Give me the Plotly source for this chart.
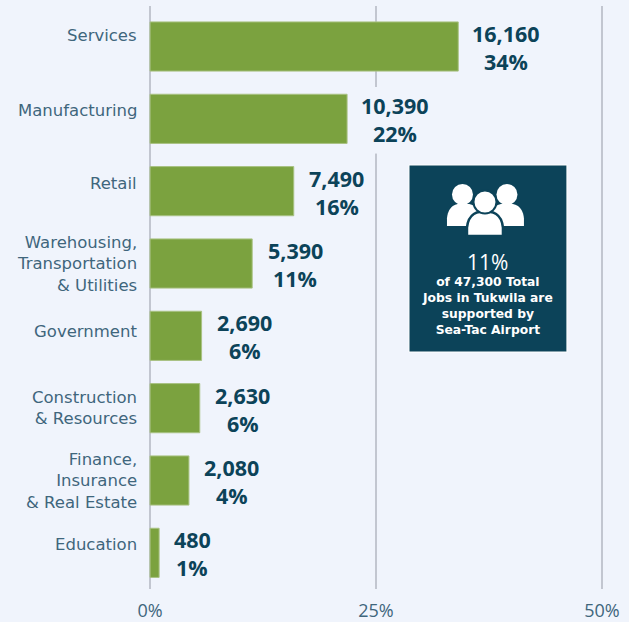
import plotly.graph_objects as go

categories = ["Services", "Manufacturing", "Retail", "Warehousing,<br>Transportation<br>& Utilities",
              "Government", "Construction<br>& Resources", "Finance,<br>Insurance<br>& Real Estate", "Education"]
shares = [34.1, 21.8, 15.9, 11.3, 5.7, 5.5, 4.3, 1.0]
jobs_labels = ["16,160", "10,390", "7,490", "5,390", "2,690", "2,630", "2,080", "480"]
share_labels = ["34%", "22%", "16%", "11%", "6%", "6%", "4%", "1%"]
x_ticks = [0, 25, 50]
x_tick_labels = ["0%", "25%", "50%"]
label_nudges = [-11, -8, -8, 0, -4, 0, 0, -8]

W, H = 629, 622
PX_PER_UNIT = 9.04
PAD = 2
ML, MR, MT, MB = 150 - PAD * PX_PER_UNIT, 27 - PAD * PX_PER_UNIT, 6, 33
BG = "#F0F4FC"
DARK = "#0C4359"
LABEL = "#3F667C"
FONT = "Open Sans"

def fx(p):
    return (p - ML) / (W - ML - MR)
def fy(p):
    return 1 - (p - MT) / (H - MT - MB)

def circle(cx, cy, r, fill, line=None):
    return dict(type="circle", xref="paper", yref="paper", x0=fx(cx - r), x1=fx(cx + r), y0=fy(cy + r), y1=fy(cy - r),
                fillcolor=fill, line=dict(color=line or fill, width=2 if line else 0), layer="above")

def body(x0, x1, top, bottom, fill, line=None):
    w = x1 - x0
    h = bottom - top
    pts = [(x0, bottom), (x0, top + 0.65 * h), (x0 + 0.04 * w, top), (x0 + 0.35 * w, top), (x0 + 0.65 * w, top),
           (x1 - 0.04 * w, top), (x1, top + 0.65 * h), (x1, bottom)]
    P = [f"{fx(a):.5f},{fy(b):.5f}" for a, b in pts]
    path = f"M{P[0]} L{P[1]} C{P[2]} {P[3]} {P[3]} L{P[4]} C{P[4]} {P[5]} {P[6]} L{P[7]} Z"
    return dict(type="path", xref="paper", yref="paper", path=path, fillcolor=fill,
                line=dict(color=line or fill, width=2.5 if line else 0), layer="above")

fig = go.Figure(go.Bar(
    x=shares, y=categories, orientation="h", width=0.68,
    marker=dict(color="#7BA23F", line=dict(color="#A9C283", width=1)),
    hoverinfo="skip",
))

for cat, share, jl, sl, nudge in zip(categories, shares, jobs_labels, share_labels, label_nudges):
    shift = 18 + 5 * len(jl)
    fig.add_annotation(x=share, y=cat, xref="x", yref="y", xanchor="center", yanchor="middle",
                       xshift=shift, yshift=13, text=f"<b>{jl}</b>", showarrow=False,
                       font=dict(family=FONT, size=21.5, color=DARK))
    fig.add_annotation(x=share, y=cat, xref="x", yref="y", xanchor="center", yanchor="middle",
                       xshift=shift, yshift=-15, text=f"<b>{sl}</b>", showarrow=False,
                       font=dict(family=FONT, size=21.5, color=DARK))
    fig.add_annotation(x=0, y=cat, xref="x", yref="y", xanchor="right", yanchor="middle", xshift=-11,
                       yshift=-nudge, text=cat, showarrow=False, align="right",
                       font=dict(family="DejaVu Sans", size=16.5, color=LABEL))

shapes = [
    # gap in the 25% gridline behind the Manufacturing label
    dict(type="rect", xref="x", yref="y", x0=24.5, x1=25.5, y0=0.56, y1=1.48,
         fillcolor=BG, line=dict(width=0), layer="between"),
    dict(type="rect", xref="paper", yref="paper", x0=fx(409), x1=fx(567), y0=fy(352), y1=fy(165),
         fillcolor=DARK, line=dict(color="#FFFFFF", width=1), layer="above"),
    circle(462.5, 194.5, 10.5, "#FFFFFF"),
    circle(507, 194.5, 10.5, "#FFFFFF"),
    body(447, 480, 204, 226, "#FFFFFF"),
    body(490, 524, 204, 226, "#FFFFFF"),
    body(467, 503, 212, 236, "#FFFFFF", DARK),
    circle(485, 202, 11.5, "#FFFFFF", DARK),
]

box_mid = fx(488)
fig.add_annotation(x=box_mid, y=fy(262), xref="paper", yref="paper", text="11%", showarrow=False,
                   font=dict(family=FONT, size=21, color="#FFFFFF"), xanchor="center", yanchor="middle")
fig.add_annotation(x=box_mid, y=fy(306), xref="paper", yref="paper", showarrow=False, align="center",
                   text="<b>of 47,300 Total<br>Jobs in Tukwila are<br>supported by<br>Sea-Tac Airport</b>",
                   font=dict(family="DejaVu Sans", size=12.3, color="#FFFFFF"), xanchor="center", yanchor="middle")

fig.update_layout(
    width=W, height=H, margin=dict(l=ML, r=MR, t=MT, b=MB, autoexpand=False),
    paper_bgcolor=BG, plot_bgcolor=BG, showlegend=False, shapes=shapes,
    font=dict(family=FONT, color=LABEL),
    xaxis=dict(range=[-PAD, 50 + PAD], tickvals=x_ticks, ticktext=x_tick_labels, showgrid=True, gridcolor="#C2C6D0",
               gridwidth=2, zeroline=False, showline=False, ticks="outside", ticklen=5, tickcolor="rgba(0,0,0,0)",
               tickfont=dict(family=FONT, size=18, color=LABEL)),
    yaxis=dict(type="category", categoryorder="array", categoryarray=categories, range=[7.5, -0.56],
               showgrid=False, zeroline=False, showline=False, showticklabels=False),
)

fig.write_html("out.html", config=dict(displayModeBar=False),
               post_script="document.body.style.margin='0';document.body.style.background='" + BG + "';")
